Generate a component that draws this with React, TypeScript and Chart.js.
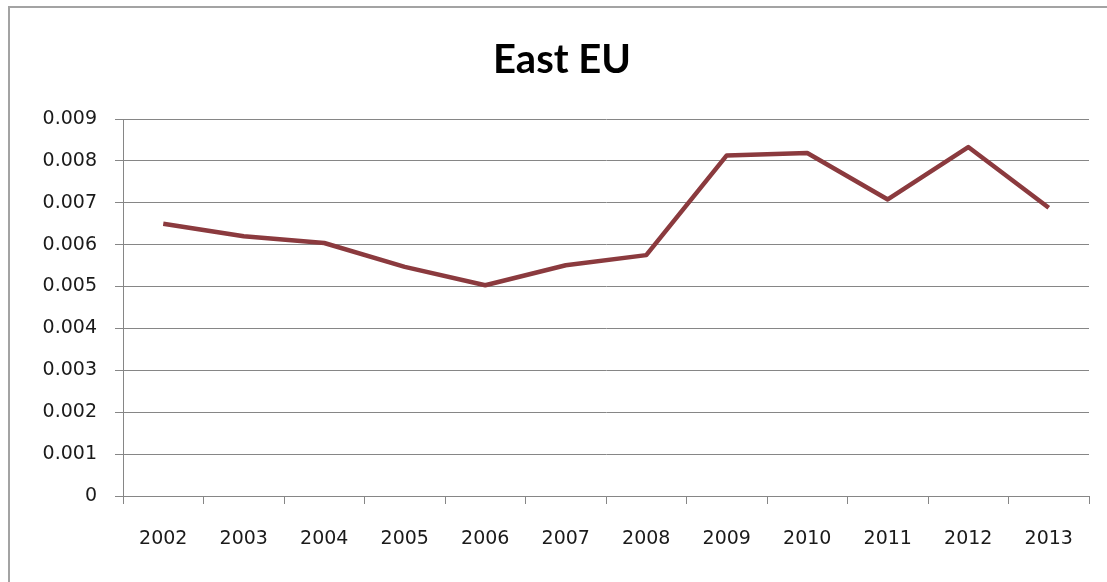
import { useEffect, useRef } from "react";
import { Chart, registerables } from "chart.js";

Chart.register(...registerables);

const years = ["2002", "2003", "2004", "2005", "2006", "2007", "2008", "2009", "2010", "2011", "2012", "2013"];
const eastEU = [0.0065, 0.0062, 0.00604, 0.00547, 0.00503, 0.00551, 0.00575, 0.00813, 0.00819, 0.00708, 0.00833, 0.00688];
const yTickValues = [0, 0.001, 0.002, 0.003, 0.004, 0.005, 0.006, 0.007, 0.008, 0.009];
const chartTitle = "East EU";

export default function App() {
  const ref = useRef<HTMLCanvasElement | null>(null);

  useEffect(() => {
    if (!ref.current) return;
    const chart = new Chart(ref.current, {
      type: "line",
      data: {
        labels: years,
        datasets: [
          {
            label: chartTitle,
            data: eastEU,
            borderColor: "#8B3A3E",
            borderWidth: 4.5,
            pointRadius: 0,
            tension: 0,
            borderJoinStyle: "round",
            borderCapStyle: "butt",
          },
        ],
      },
      options: {
        responsive: false,
        animation: false,
        layout: { padding: { left: 25, right: 25, top: 0, bottom: 0 } },
        plugins: {
          legend: { display: false },
          tooltip: { enabled: false },
          title: {
            display: true,
            text: chartTitle,
            color: "#000000",
            font: { family: "Lato", weight: "bold", size: 40, lineHeight: 1 },
            padding: { top: 32, bottom: 39 },
          },
        },
        scales: {
          x: {
            offset: true,
            grid: {
              offset: true,
              drawOnChartArea: false,
              drawTicks: true,
              tickLength: 8,
              color: "#868686",
            },
            border: { display: true, color: "#868686", width: 1 },
            ticks: {
              color: "#1a1a1a",
              font: { family: "DejaVu Sans", size: 19 },
              padding: 24,
              maxRotation: 0,
              autoSkip: false,
            },
            afterFit: (scale: any) => {
              scale.height = 102;
            },
          },
          y: {
            min: yTickValues[0],
            max: yTickValues[yTickValues.length - 1],
            grid: {
              color: "#868686",
              lineWidth: 1,
              drawTicks: true,
              tickLength: 8,
            },
            border: { display: true, color: "#868686", width: 1 },
            ticks: {
              stepSize: yTickValues[1] - yTickValues[0],
              color: "#1a1a1a",
              font: { family: "DejaVu Sans", size: 19 },
              padding: 18,
              callback: (v: any) => {
                const n = Number(v);
                return n === 0 ? "0" : n.toFixed(3);
              },
            },
            afterFit: (scale: any) => {
              scale.width = 88;
            },
          },
        },
      },
    });
    return () => chart.destroy();
  }, []);

  return (
    <div
      style={{
        position: "fixed",
        left: 0,
        top: 0,
        width: 1107,
        height: 582,
        overflow: "hidden",
        background: "#ffffff",
      }}
    >
      <div
        style={{
          position: "absolute",
          left: 8,
          top: 6,
          borderLeft: "2px solid #a3a3a3",
          borderTop: "2px solid #a3a3a3",
          width: 1110,
          height: 600,
        }}
      >
        <canvas ref={ref} width={1104} height={590} style={{ display: "block" }} />
      </div>
    </div>
  );
}
